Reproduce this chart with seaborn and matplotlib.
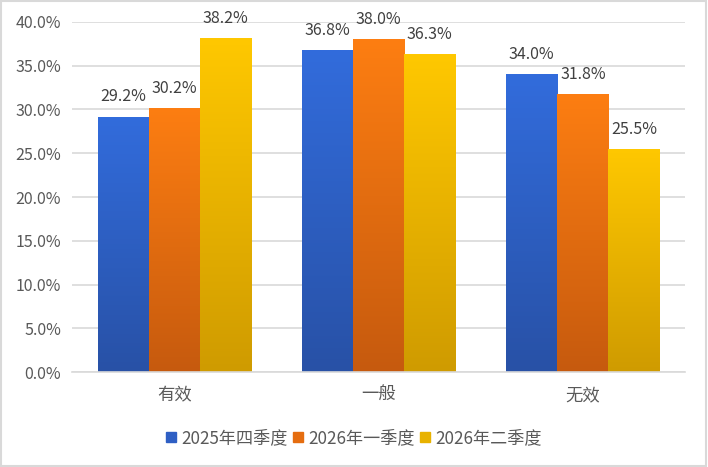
import numpy as np
import pandas as pd
import matplotlib
matplotlib.use('Agg')
import matplotlib.pyplot as plt
import seaborn as sns
from matplotlib.colors import LinearSegmentedColormap
from matplotlib.patches import Rectangle

categories = ['有效', '一般', '无效']
series = ['2025年四季度', '2026年一季度', '2026年二季度']
values_q4_2025 = [29.2, 36.8, 34.0]
values_q1_2026 = [30.2, 38.0, 31.8]
values_q2_2026 = [38.2, 36.3, 25.5]

# gradient colours (top, bottom) per series
top_colors = ['#326cdc', '#fd7e12', '#ffc800']
bottom_colors = ['#2851a6', '#c65a0e', '#cf9b00']
legend_colors = ['#2e5fc4', '#e56d10', '#e8b200']

df = pd.DataFrame({
    'cat': categories * 3,
    'series': [s for s in series for _ in categories],
    'val': values_q4_2025 + values_q1_2026 + values_q2_2026,
})

sns.set_theme(style='white')
plt.rcParams['font.family'] = ['Noto Sans CJK SC', 'DejaVu Sans']

fig = plt.figure(figsize=(7.08, 4.67), dpi=100)
ax = fig.add_axes([0.1017, 0.2034, 0.8658, 0.7495])

sns.barplot(data=df, x='cat', y='val', hue='series', order=categories,
            hue_order=series, width=0.75, palette=legend_colors, ax=ax,
            legend=False, saturation=1)

ax.set_ylim(0, 40)
ax.set_xlim(-0.5, 2.5)
ax.set_yticks(np.arange(0, 40.1, 5))
ax.set_yticklabels([f'{v:.1f}%' for v in np.arange(0, 40.1, 5)])
ax.set_xlabel('')
ax.set_ylabel('')
ax.yaxis.grid(True, color='#d9d9d9', linewidth=1.2)
ax.set_axisbelow(True)
for s in ['top', 'right', 'left']:
    ax.spines[s].set_visible(False)
ax.spines['bottom'].set_color('#d9d9d9')
ax.spines['bottom'].set_linewidth(1.2)
ax.tick_params(axis='both', length=0, labelcolor='#595959')
ax.tick_params(axis='y', labelsize=11.5, pad=8)
ax.tick_params(axis='x', labelsize=12.5, pad=10)

# replace flat fills with vertical gradients
grad = np.linspace(1, 0, 256).reshape(-1, 1)
for i, container in enumerate(ax.containers):
    cmap = LinearSegmentedColormap.from_list('g', [bottom_colors[i], top_colors[i]])
    for bar in container:
        x0 = bar.get_x()
        w = bar.get_width()
        h = bar.get_height()
        bar.set_facecolor('none')
        bar.set_edgecolor('none')
        im = ax.imshow(grad, cmap=cmap, extent=[x0, x0 + w, 0, h],
                       aspect='auto', zorder=2, vmin=0, vmax=1)
        im.set_clip_path(bar)
    labels = [f'{b.get_height():.1f}%' for b in container]
    ax.bar_label(container, labels=labels, padding=8, fontsize=11.5,
                 color='#404040')

ax.set_xlim(-0.5, 2.5)
ax.set_ylim(0, 40)

handles = [Rectangle((0, 0), 1, 1, color=c) for c in legend_colors]
fig.legend(handles, series, loc='center', bbox_to_anchor=(0.5, 0.062),
           ncol=3, frameon=False, fontsize=12.3, handlelength=0.6,
           handleheight=0.6, handletextpad=0.3, columnspacing=0.3,
           labelcolor='#595959')

fig.patches.append(Rectangle((0.002, 0.003), 0.995, 0.994, transform=fig.transFigure,
                             fill=False, edgecolor='#d9d9d9', linewidth=1.5))

fig.savefig('out.png', dpi=100)
